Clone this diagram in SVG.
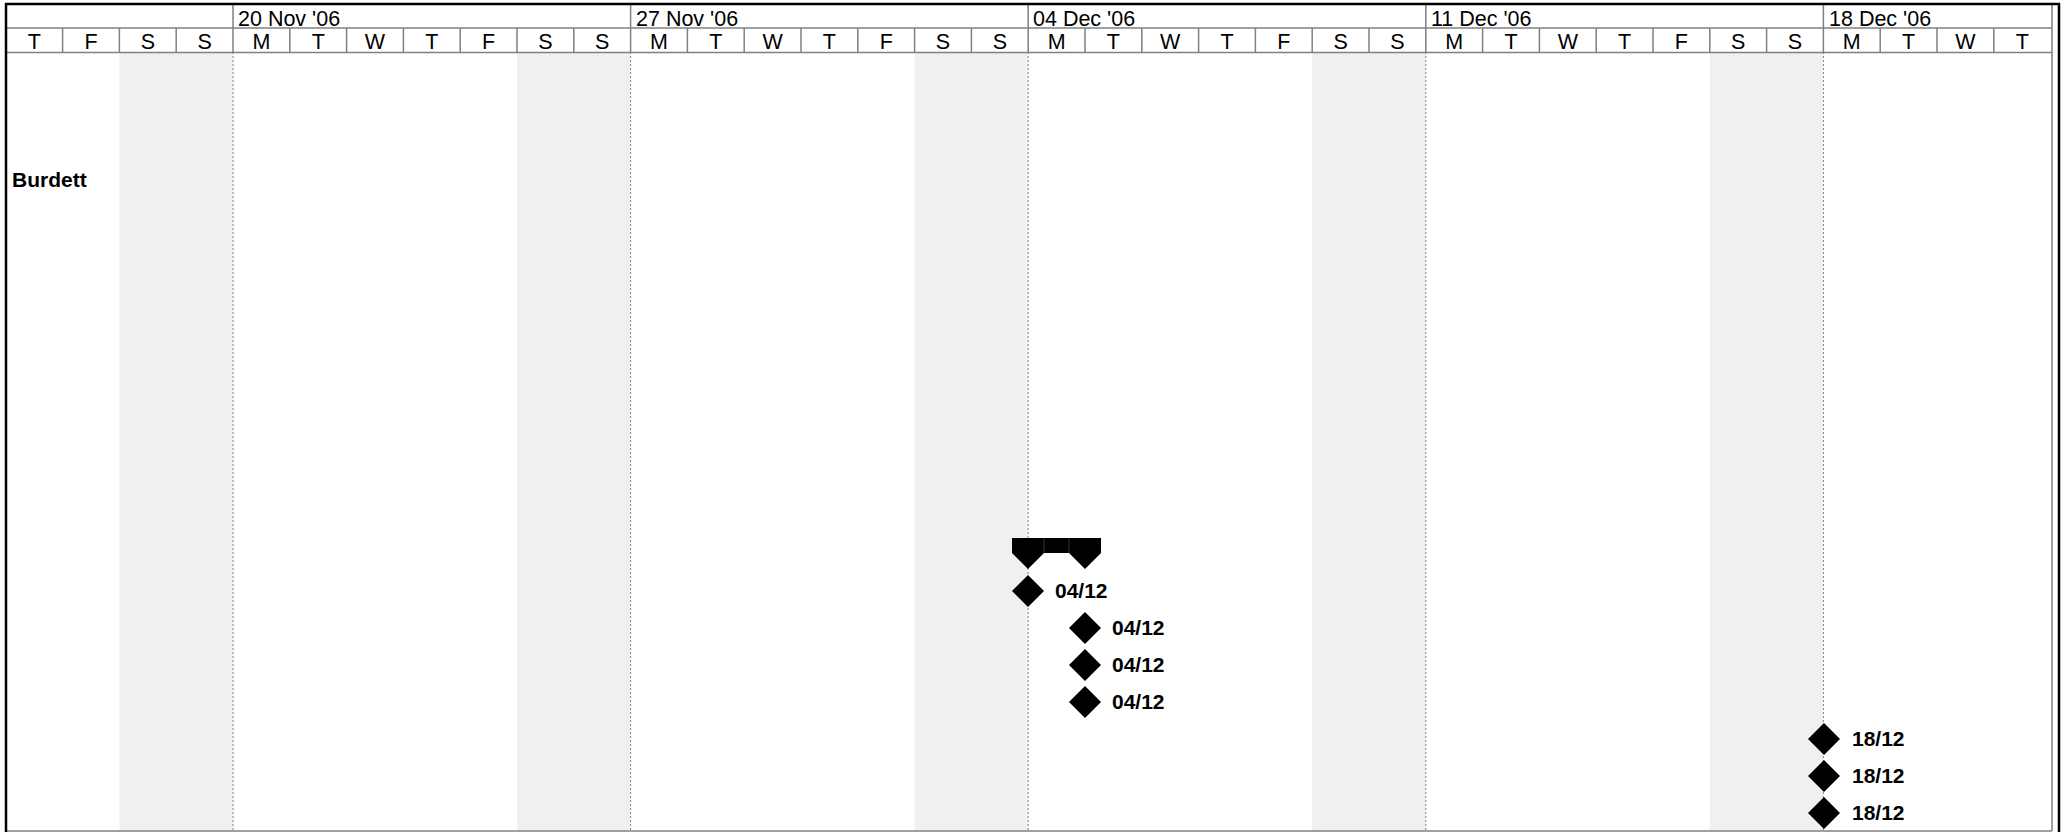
<svg xmlns="http://www.w3.org/2000/svg" width="2065" height="832" viewBox="0 0 2065 832">
<style>
.hdr{font-family:"Liberation Sans",Arial,sans-serif;font-size:21.5px;fill:#000}
.day{text-anchor:middle}
.lbl{font-family:"Liberation Sans",Arial,sans-serif;font-size:21px;font-weight:bold;fill:#000}
.grid{stroke:#808080;stroke-width:1.5;fill:none}
.dot{stroke:#808080;stroke-width:1;stroke-dasharray:2,2;fill:none}
.wk{fill:#f0f0f0}
.ms{fill:#000}
</style>
<defs>
<polygon id="dia" points="0,-16 16,0 0,16 -16,0"/>
</defs>
<rect width="2065" height="832" fill="#fff"/>
<g id="weekends">
<rect class="wk" x="119.4" y="52" width="113.6" height="779"/>
<rect class="wk" x="517" y="52" width="113.6" height="779"/>
<rect class="wk" x="914.6" y="52" width="113.6" height="779"/>
<rect class="wk" x="1312.2" y="52" width="113.6" height="779"/>
<rect class="wk" x="1709.8" y="52" width="113.6" height="779"/>
</g>
<g id="weeklines">
<line class="dot" x1="233" y1="52" x2="233" y2="831"/>
<line class="dot" x1="630.6" y1="52" x2="630.6" y2="831"/>
<line class="dot" x1="1028.2" y1="52" x2="1028.2" y2="831"/>
<line class="dot" x1="1425.8" y1="52" x2="1425.8" y2="831"/>
<line class="dot" x1="1823.4" y1="52" x2="1823.4" y2="831"/>
</g>
<g id="header">
<line class="grid" x1="6" y1="28" x2="2052" y2="28"/>
<line class="grid" x1="6" y1="52.5" x2="2052" y2="52.5"/>
<line class="grid" x1="233" y1="4" x2="233" y2="28"/>
<line class="grid" x1="630.6" y1="4" x2="630.6" y2="28"/>
<line class="grid" x1="1028.2" y1="4" x2="1028.2" y2="28"/>
<line class="grid" x1="1425.8" y1="4" x2="1425.8" y2="28"/>
<line class="grid" x1="1823.4" y1="4" x2="1823.4" y2="28"/>
<path class="grid" d="M62.6 28V52.5M119.4 28V52.5M176.2 28V52.5M233 28V52.5M289.8 28V52.5M346.6 28V52.5M403.4 28V52.5M460.2 28V52.5M517 28V52.5M573.8 28V52.5M630.6 28V52.5M687.4 28V52.5M744.2 28V52.5M801 28V52.5M857.8 28V52.5M914.6 28V52.5M971.4 28V52.5M1028.2 28V52.5M1085 28V52.5M1141.8 28V52.5M1198.6 28V52.5M1255.4 28V52.5M1312.2 28V52.5M1369 28V52.5M1425.8 28V52.5M1482.6 28V52.5M1539.4 28V52.5M1596.2 28V52.5M1653 28V52.5M1709.8 28V52.5M1766.6 28V52.5M1823.4 28V52.5M1880.2 28V52.5M1937 28V52.5M1993.8 28V52.5"/>
<text class="hdr" x="238" y="25.5">20 Nov '06</text>
<text class="hdr" x="636" y="25.5">27 Nov '06</text>
<text class="hdr" x="1033" y="25.5">04 Dec '06</text>
<text class="hdr" x="1431" y="25.5">11 Dec '06</text>
<text class="hdr" x="1829" y="25.5">18 Dec '06</text>
<g class="hdr day">
<text x="34.2" y="49">T</text><text x="91" y="49">F</text><text x="147.8" y="49">S</text><text x="204.6" y="49">S</text>
<text x="261.4" y="49">M</text><text x="318.2" y="49">T</text><text x="375" y="49">W</text><text x="431.8" y="49">T</text><text x="488.6" y="49">F</text><text x="545.4" y="49">S</text><text x="602.2" y="49">S</text>
<text x="659" y="49">M</text><text x="715.8" y="49">T</text><text x="772.6" y="49">W</text><text x="829.4" y="49">T</text><text x="886.2" y="49">F</text><text x="943" y="49">S</text><text x="999.8" y="49">S</text>
<text x="1056.6" y="49">M</text><text x="1113.4" y="49">T</text><text x="1170.2" y="49">W</text><text x="1227" y="49">T</text><text x="1283.8" y="49">F</text><text x="1340.6" y="49">S</text><text x="1397.4" y="49">S</text>
<text x="1454.2" y="49">M</text><text x="1511" y="49">T</text><text x="1567.8" y="49">W</text><text x="1624.6" y="49">T</text><text x="1681.4" y="49">F</text><text x="1738.2" y="49">S</text><text x="1795" y="49">S</text>
<text x="1851.8" y="49">M</text><text x="1908.6" y="49">T</text><text x="1965.4" y="49">W</text><text x="2022.2" y="49">T</text>
</g>
</g>
<g id="frame">
<line class="grid" x1="2052" y1="4" x2="2052" y2="831"/>
<line class="grid" x1="6" y1="831" x2="2052" y2="831"/>
<path d="M6 832V4H2059V832" fill="none" stroke="#000" stroke-width="2.5"/>
</g>
<g id="burdett">
<text class="lbl" x="12" y="187">Burdett</text>
</g>
<g id="summary">
<polygon class="ms" points="1012,538 1044,538 1044,553 1028,569 1012,553"/>
<rect class="ms" x="1044" y="538" width="25" height="15"/>
<polygon class="ms" points="1069,538 1101,538 1101,553 1085,569 1069,553"/>
<line x1="1044" y1="538" x2="1044" y2="553" stroke="#333" stroke-width="1"/>
<line x1="1069" y1="538" x2="1069" y2="553" stroke="#333" stroke-width="1"/>
</g>
<g id="m1"><use href="#dia" x="1028" y="591"/><text class="lbl" x="1055" y="597.5">04/12</text></g>
<g id="m2"><use href="#dia" x="1085" y="628"/><text class="lbl" x="1112" y="634.5">04/12</text></g>
<g id="m3"><use href="#dia" x="1085" y="665"/><text class="lbl" x="1112" y="671.5">04/12</text></g>
<g id="m4"><use href="#dia" x="1085" y="702"/><text class="lbl" x="1112" y="708.5">04/12</text></g>
<g id="m5"><use href="#dia" x="1824" y="739"/><text class="lbl" x="1852" y="745.5">18/12</text></g>
<g id="m6"><use href="#dia" x="1824" y="776"/><text class="lbl" x="1852" y="782.5">18/12</text></g>
<g id="m7"><use href="#dia" x="1824" y="813"/><text class="lbl" x="1852" y="819.5">18/12</text></g>
</svg>
